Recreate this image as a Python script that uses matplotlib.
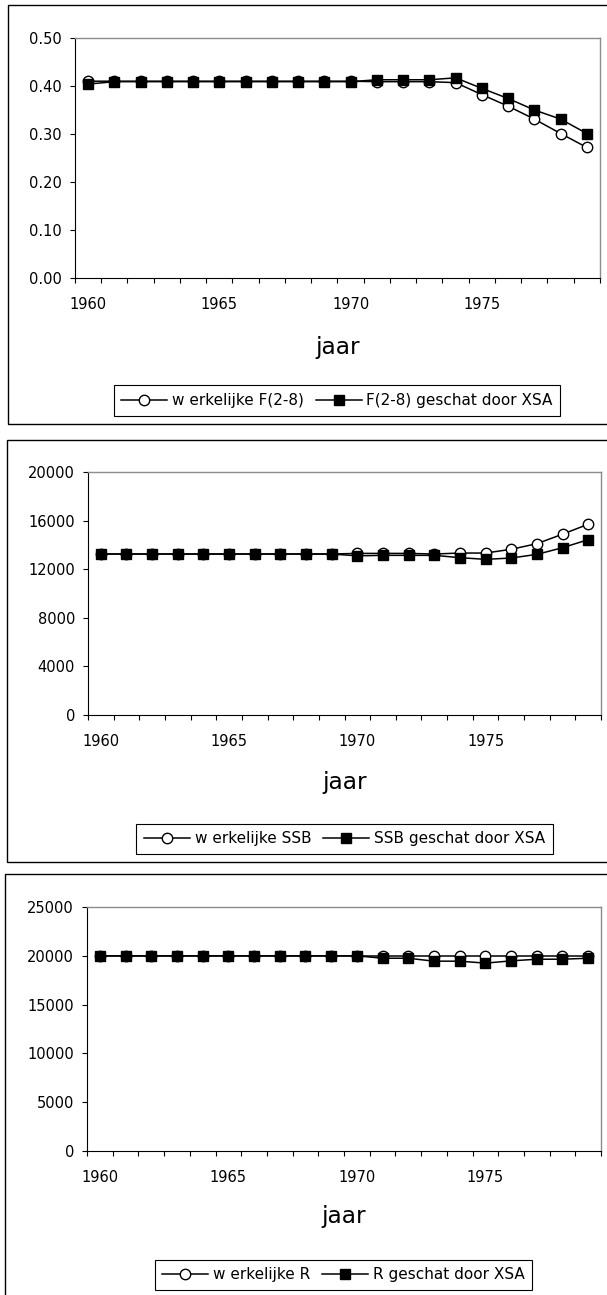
import matplotlib
matplotlib.use('Agg')
import numpy as np
import matplotlib.pyplot as plt
from matplotlib.patches import Rectangle
from matplotlib.ticker import FuncFormatter

plt.rcParams['font.family'] = ['DejaVu Sans']

# ---------------- data ----------------
years = list(range(1960, 1980))

f_werkelijk = [0.41, 0.41, 0.41, 0.41, 0.41, 0.41, 0.41, 0.41, 0.41, 0.41,
               0.41, 0.409, 0.409, 0.409, 0.407, 0.382, 0.358, 0.331, 0.301, 0.272]
f_xsa = [0.404, 0.409, 0.409, 0.409, 0.409, 0.409, 0.409, 0.409, 0.409, 0.409,
         0.409, 0.413, 0.413, 0.413, 0.417, 0.395, 0.374, 0.350, 0.331, 0.301]

ssb_werkelijk = [13250, 13250, 13250, 13250, 13250, 13250, 13250, 13250, 13250, 13250,
                 13300, 13300, 13300, 13250, 13330, 13330, 13640, 14100, 14880, 15700]
ssb_xsa = [13250, 13250, 13250, 13250, 13250, 13250, 13250, 13250, 13250, 13250,
           13100, 13140, 13140, 13140, 12950, 12810, 12920, 13220, 13770, 14430]

r_werkelijk = [20000] * 20
r_xsa = [20000, 20000, 20000, 20000, 20000, 20000, 20000, 20000, 20000, 20000,
         20000, 19750, 19750, 19450, 19450, 19250, 19480, 19650, 19650, 19750]

xtick_labels = [1960, 1965, 1970, 1975]
xlabel = "jaar"

labels_f = ["w erkelijke F(2-8)", "F(2-8) geschat door XSA"]
labels_ssb = ["w erkelijke SSB", "SSB geschat door XSA"]
labels_r = ["w erkelijke R", "R geschat door XSA"]

# ---------------- layout ----------------
W, H = 607, 1295
fig = plt.figure(figsize=(W / 100, H / 100), dpi=100)
fig.patch.set_facecolor('white')


def rect(l, t, r, b):
    return [l / W, 1 - b / H, (r - l) / W, (b - t) / H]


panels = [
    dict(ax=(75, 38, 600, 278), box=(8, 5, 612, 424), ymax=0.5, ystep=0.1,
         fmt=lambda v, p: f"{v:.2f}", a=f_werkelijk, b=f_xsa, labels=labels_f,
         leg=(337, 400.5), lab=347),
    dict(ax=(88, 472, 601, 715), box=(7, 440, 612, 862), ymax=20000, ystep=4000,
         fmt=lambda v, p: f"{v:.0f}", a=ssb_werkelijk, b=ssb_xsa, labels=labels_ssb,
         leg=(344.5, 839), lab=782),
    dict(ax=(87, 907, 601, 1151), box=(5, 874, 612, 1300), ymax=25000, ystep=5000,
         fmt=lambda v, p: f"{v:.0f}", a=r_werkelijk, b=r_xsa, labels=labels_r,
         leg=(343.5, 1275), lab=1217),
]

for P in panels:
    l, t, r, b = P['box']
    fig.add_artist(Rectangle((l / W, 1 - b / H), (r - l) / W, (b - t) / H,
                             transform=fig.transFigure, fill=False,
                             edgecolor='black', linewidth=1.0))

    ax = fig.add_axes(rect(*P['ax']))
    ax.plot(years, P['a'], '-o', color='black', mfc='white', mec='black',
            ms=7.5, mew=1.0, lw=1.1, label=P['labels'][0], clip_on=False, zorder=3)
    ax.plot(years, P['b'], '-s', color='black', mfc='black', mec='black',
            ms=7, mew=1.0, lw=1.1, label=P['labels'][1], clip_on=False, zorder=4)

    ax.set_xlim(1959.5, 1979.5)
    ax.set_ylim(0, P['ymax'])
    ax.set_yticks(np.arange(0, P['ymax'] + P['ystep'] / 2, P['ystep']))
    ax.yaxis.set_major_formatter(FuncFormatter(P['fmt']))
    ax.set_xticks(xtick_labels)
    ax.set_xticks(np.arange(1959.5, 1980, 1.0), minor=True)
    ax.tick_params(axis='x', which='major', length=0, pad=13.5, labelsize=10.5)
    ax.tick_params(axis='x', which='minor', length=3.6, width=0.8, direction='out')
    ax.tick_params(axis='y', which='major', length=3.6, width=0.8, pad=5.8,
                   labelsize=10.5, direction='out')

    for s in ('left', 'bottom'):
        ax.spines[s].set_color('black')
        ax.spines[s].set_linewidth(0.8)
    for s in ('top', 'right'):
        ax.spines[s].set_color('#8c8c8c')
        ax.spines[s].set_linewidth(1.0)

    axl, axt, axr, axb = P['ax']
    ax.set_xlabel(xlabel, fontsize=16.7)
    ax.xaxis.label.set_va('center')
    ax.xaxis.set_label_coords(0.5, -(P['lab'] - axb) / (axb - axt))

    cx, cy = P['leg']
    leg = ax.legend(loc='center', bbox_to_anchor=(cx / W, 1 - cy / H),
                    bbox_transform=fig.transFigure, ncol=2, frameon=True,
                    fancybox=False, edgecolor='black', framealpha=1,
                    fontsize=11, handlelength=3.0, handletextpad=0.3,
                    columnspacing=0.8, borderpad=0.5, borderaxespad=0)
    leg.get_frame().set_linewidth(0.8)

fig.savefig('out.png', dpi=100, facecolor='white')
